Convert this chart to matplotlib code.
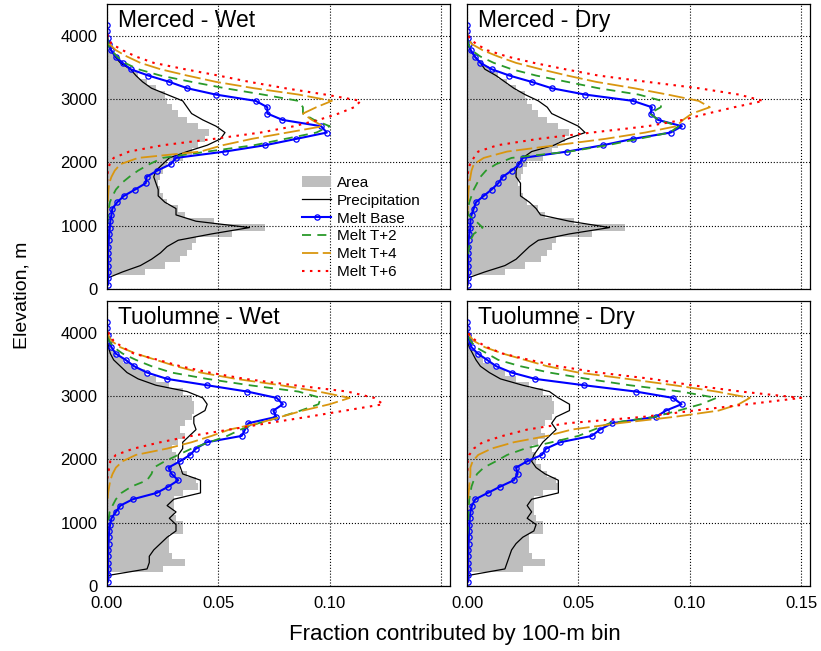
import numpy as np
import matplotlib
matplotlib.use("Agg")
import matplotlib.pyplot as plt
from matplotlib.patches import Patch
from matplotlib.lines import Line2D

plt.rcParams['font.family'] = ['Liberation Sans', 'DejaVu Sans']

# elevation of each 100-m bin (m)
elev = np.arange(70, 4200, 100)

# fraction of basin area per bin
merced_area = [0, 0, 0.017, 0.026, 0.033, 0.036, 0.038, 0.040, 0.056, 0.071,
               0.048, 0.035, 0.032, 0.027, 0.025, 0.024, 0.023, 0.024, 0.025, 0.027,
               0.034, 0.038, 0.041, 0.044, 0.046, 0.041, 0.036, 0.032, 0.029, 0.027,
               0.026, 0.022, 0.018, 0.014, 0.010, 0.007, 0.004, 0.0016, 0.0005, 0,
               0, 0]
tuol_area = [0, 0, 0.025, 0.035, 0.029, 0.028, 0.028, 0.028, 0.034, 0.034,
             0.031, 0.030, 0.030, 0.030, 0.034, 0.041, 0.040, 0.036, 0.033, 0.031,
             0.031, 0.029, 0.032, 0.035, 0.033, 0.035, 0.038, 0.039, 0.039, 0.038,
             0.034, 0.028, 0.022, 0.017, 0.012, 0.007, 0.004, 0.0018, 0.0006, 0,
             0, 0]

# Merced - Wet
mw_precip = [0, 0, 0.007, 0.015, 0.020, 0.024, 0.027, 0.032, 0.047, 0.064,
             0.040, 0.031, 0.031, 0.026, 0.023, 0.023, 0.022, 0.021, 0.022, 0.025,
             0.028, 0.036, 0.045, 0.051, 0.053, 0.049, 0.043, 0.038, 0.036, 0.034,
             0.027, 0.020, 0.016, 0.013, 0.0105, 0.006, 0.0035, 0.002, 0.001, 0.0002,
             0, 0]
mw_base = [0.0005, 0.0005, 0.0005, 0.0005, 0.0005, 0.0005, 0.0006, 0.0008, 0.001, 0.0013,
           0.0015, 0.002, 0.0024, 0.0046, 0.0076, 0.0126, 0.0174, 0.0178, 0.0226, 0.0286,
           0.031, 0.053, 0.071, 0.085, 0.0987, 0.0962, 0.0788, 0.072, 0.072, 0.0668,
           0.0488, 0.036, 0.028, 0.0186, 0.0106, 0.007, 0.0039, 0.0018, 0.0008, 0.0003,
           0.0001, 0]
mw_t2 = [0, 0, 0, 0, 0, 0, 0, 0, 0, 0.0001,
         0.0002, 0.0004, 0.0008, 0.0013, 0.0025, 0.004, 0.0065, 0.010, 0.014, 0.019,
         0.025, 0.045, 0.066, 0.080, 0.094, 0.100, 0.093, 0.088, 0.088, 0.086,
         0.070, 0.053, 0.038, 0.024, 0.014, 0.008, 0.0045, 0.002, 0.0005, 0.0001,
         0, 0]
mw_t4 = [0, 0, 0, 0, 0, 0, 0, 0, 0, 0,
         0, 0, 0.0002, 0.0004, 0.0005, 0.0007, 0.001, 0.002, 0.0035, 0.006,
         0.014, 0.042, 0.052, 0.065, 0.081, 0.097, 0.092, 0.088, 0.094, 0.101,
         0.086, 0.066, 0.049, 0.036, 0.024, 0.015, 0.009, 0.004, 0.001, 0.0002,
         0, 0]
mw_t6 = [0, 0, 0, 0, 0, 0, 0, 0, 0, 0,
         0, 0, 0, 0, 0, 0, 0, 0.0002, 0.0004, 0.0012,
         0.003, 0.010, 0.025, 0.048, 0.069, 0.084, 0.095, 0.104, 0.111, 0.114,
         0.098, 0.080, 0.064, 0.050, 0.035, 0.021, 0.013, 0.007, 0.002, 0.0005,
         0, 0]

# Merced - Dry
md_precip = [0, 0, 0.008, 0.017, 0.022, 0.025, 0.028, 0.032, 0.046, 0.064,
             0.046, 0.033, 0.031, 0.028, 0.024, 0.024, 0.024, 0.022, 0.022, 0.023,
             0.025, 0.029, 0.039, 0.045, 0.053, 0.050, 0.044, 0.038, 0.036, 0.032,
             0.026, 0.021, 0.017, 0.013, 0.008, 0.006, 0.0035, 0.0015, 0.0005, 0,
             0, 0]
md_base = [0.0003, 0.0004, 0.0004, 0.0005, 0.0005, 0.0005, 0.0005, 0.0007, 0.001, 0.0015,
           0.0015, 0.002, 0.003, 0.004, 0.0075, 0.011, 0.014, 0.016, 0.020, 0.0235,
           0.025, 0.045, 0.061, 0.0745, 0.0914, 0.0965, 0.0857, 0.0824, 0.083, 0.0745,
           0.053, 0.038, 0.029, 0.019, 0.011, 0.006, 0.0035, 0.0017, 0.0007, 0.0002,
           0, 0]
md_t2 = [0, 0, 0, 0, 0, 0.0005, 0.001, 0.0015, 0.003, 0.007,
         0.004, 0.0005, 0.0005, 0.001, 0.002, 0.003, 0.0045, 0.006, 0.0085, 0.013,
         0.020, 0.046, 0.063, 0.077, 0.091, 0.095, 0.086, 0.082, 0.087, 0.0875,
         0.077, 0.059, 0.045, 0.031, 0.020, 0.012, 0.006, 0.002, 0.0005, 0,
         0, 0]
md_t4 = [0, 0, 0, 0, 0, 0, 0, 0, 0, 0,
         0, 0, 0.0003, 0.0005, 0.0005, 0.0007, 0.001, 0.0015, 0.002, 0.003,
         0.0075, 0.018, 0.040, 0.062, 0.080, 0.094, 0.097, 0.101, 0.109, 0.104,
         0.090, 0.075, 0.058, 0.045, 0.033, 0.022, 0.014, 0.007, 0.002, 0.0005,
         0, 0]
md_t6 = [0, 0, 0, 0, 0, 0, 0, 0, 0, 0,
         0, 0, 0, 0, 0, 0, 0, 0.0003, 0.0005, 0.0013,
         0.003, 0.005, 0.0137, 0.032, 0.056, 0.081, 0.097, 0.108, 0.120, 0.133,
         0.122, 0.104, 0.081, 0.059, 0.044, 0.030, 0.018, 0.009, 0.004, 0.001,
         0, 0]

# Tuolumne - Wet
tw_precip = [0, 0.001, 0.018, 0.019, 0.019, 0.021, 0.024, 0.027, 0.031, 0.031,
             0.028, 0.031, 0.027, 0.030, 0.042, 0.042, 0.042, 0.034, 0.033, 0.032,
             0.032, 0.034, 0.034, 0.037, 0.040, 0.039, 0.039, 0.044, 0.045, 0.043,
             0.036, 0.022, 0.014, 0.009, 0.006, 0.003, 0.0015, 0.0007, 0.0002, 0,
             0, 0]
tw_base = [0.0005, 0.0005, 0.0005, 0.0005, 0.0005, 0.0006, 0.0007, 0.0008, 0.001, 0.0014,
           0.002, 0.004, 0.006, 0.0116, 0.0223, 0.0276, 0.032, 0.029, 0.0276, 0.0328,
           0.0373, 0.040, 0.0448, 0.0605, 0.062, 0.0635, 0.076, 0.0747, 0.079, 0.0762,
           0.063, 0.0449, 0.027, 0.018, 0.0122, 0.0084, 0.0039, 0.002, 0.001, 0.0003,
           0.0001, 0]
tw_t2 = [0, 0, 0, 0, 0, 0, 0, 0, 0, 0,
         0.0008, 0.0012, 0.0025, 0.004, 0.0065, 0.011, 0.018, 0.020, 0.021, 0.026,
         0.032, 0.038, 0.046, 0.054, 0.060, 0.068, 0.078, 0.087, 0.095, 0.096,
         0.086, 0.064, 0.045, 0.029, 0.020, 0.013, 0.007, 0.003, 0.001, 0.0003,
         0, 0]
tw_t4 = [0, 0, 0, 0, 0, 0, 0, 0, 0, 0,
         0, 0, 0, 0.0003, 0.0005, 0.001, 0.0015, 0.0025, 0.004, 0.007,
         0.013, 0.027, 0.038, 0.047, 0.055, 0.068, 0.078, 0.088, 0.100, 0.109,
         0.095, 0.078, 0.058, 0.042, 0.031, 0.022, 0.013, 0.006, 0.002, 0.0005,
         0, 0]
tw_t6 = [0, 0, 0, 0, 0, 0, 0, 0, 0, 0,
         0, 0, 0, 0, 0, 0, 0, 0.0005, 0.001, 0.0015,
         0.004, 0.012, 0.024, 0.038, 0.055, 0.072, 0.090, 0.107, 0.124, 0.120,
         0.108, 0.084, 0.062, 0.046, 0.033, 0.023, 0.012, 0.007, 0.003, 0.001,
         0, 0]

# Tuolumne - Dry
td_precip = [0, 0.001, 0.017, 0.018, 0.019, 0.020, 0.022, 0.025, 0.030, 0.031,
             0.027, 0.029, 0.027, 0.029, 0.041, 0.041, 0.041, 0.035, 0.031, 0.029,
             0.030, 0.032, 0.034, 0.037, 0.040, 0.038, 0.040, 0.046, 0.046, 0.041,
             0.037, 0.025, 0.015, 0.010, 0.006, 0.004, 0.0025, 0.001, 0.0002, 0,
             0, 0]
td_base = [0.0005, 0.0005, 0.0005, 0.0005, 0.0005, 0.0006, 0.0007, 0.0008, 0.0009, 0.001,
           0.0012, 0.0015, 0.0022, 0.0037, 0.0093, 0.0149, 0.021, 0.0227, 0.022, 0.027,
           0.0336, 0.0355, 0.0418, 0.056, 0.0597, 0.065, 0.0848, 0.0893, 0.0963, 0.0925,
           0.0758, 0.0525, 0.0306, 0.020, 0.0131, 0.009, 0.0048, 0.002, 0.001, 0.0003,
           0.0001, 0]
td_t2 = [0, 0, 0, 0, 0, 0, 0, 0, 0.0003, 0.0005,
         0.0006, 0.0007, 0.0008, 0.001, 0.0015, 0.002, 0.003, 0.0045, 0.0075, 0.013,
         0.018, 0.026, 0.038, 0.050, 0.057, 0.064, 0.084, 0.095, 0.105, 0.112,
         0.096, 0.073, 0.054, 0.037, 0.024, 0.014, 0.009, 0.004, 0.0015, 0.0005,
         0, 0]
td_t4 = [0, 0, 0, 0, 0, 0, 0, 0, 0, 0,
         0, 0, 0, 0.0005, 0.0007, 0.001, 0.0012, 0.0015, 0.0015, 0.0025,
         0.005, 0.011, 0.021, 0.036, 0.047, 0.068, 0.093, 0.113, 0.122, 0.127,
         0.112, 0.093, 0.072, 0.050, 0.036, 0.026, 0.016, 0.008, 0.003, 0.0008,
         0, 0]
td_t6 = [0, 0, 0, 0, 0, 0, 0, 0, 0, 0,
         0, 0, 0, 0, 0, 0, 0, 0, 0.0003, 0.0003,
         0.001, 0.003, 0.007, 0.016, 0.027, 0.045, 0.079, 0.102, 0.126, 0.150,
         0.123, 0.101, 0.083, 0.059, 0.041, 0.028, 0.016, 0.009, 0.004, 0.001,
         0, 0]

panels = [
    ("Merced - Wet", merced_area, mw_precip, mw_base, mw_t2, mw_t4, mw_t6),
    ("Merced - Dry", merced_area, md_precip, md_base, md_t2, md_t4, md_t6),
    ("Tuolumne - Wet", tuol_area, tw_precip, tw_base, tw_t2, tw_t4, tw_t6),
    ("Tuolumne - Dry", tuol_area, td_precip, td_base, td_t2, td_t4, td_t6),
]

area_col = '#bebebe'
green = '#2a9a2a'
orange = '#d9960f'
st_t2 = (0, (5, 3.5))
st_t4 = (0, (9, 2.5))
st_t6 = (0, (1.2, 2.6))

fig = plt.figure(figsize=(8.21, 6.51), dpi=100)
axs = fig.subplots(2, 2)
fig.subplots_adjust(left=0.1303, right=0.9866, bottom=0.0998, top=0.9939,
                    wspace=0.05, hspace=0.042)

for k, (ax, (title, area, pr, base, t2, t4, t6)) in enumerate(zip(axs.flat, panels)):
    ax.barh(elev, area, height=100, color=area_col, linewidth=0, zorder=0.3)
    ax.plot(pr, elev, color='black', lw=0.9)
    ax.plot(base, elev, color='#0000ff', lw=1.5, marker='o', ms=3.8,
            mfc='none', mec='#0000ff', mew=0.9)
    ax.plot(t2, elev, color=green, lw=1.3, linestyle=st_t2)
    ax.plot(t4, elev, color=orange, lw=1.3, linestyle=st_t4)
    ax.plot(t6, elev, color='red', lw=1.5, linestyle=st_t6)

    ax.set_xlim(0, 0.154)
    ax.set_ylim(0, 4500)
    ax.set_xticks([0, 0.05, 0.10, 0.15])
    ax.set_yticks([0, 1000, 2000, 3000, 4000])
    ax.set_axisbelow(True)
    ax.grid(True, color='black', linestyle=':', linewidth=0.8)
    ax.tick_params(length=0, labelsize=12, pad=7)
    for s in ax.spines.values():
        s.set_linewidth(0.9)

    row, col = divmod(k, 2)
    if row == 0:
        ax.set_xticklabels([])
    elif col == 0:
        ax.set_xticklabels(['0.00', '0.05', '0.10', ''])
    else:
        ax.set_xticklabels(['0.00', '0.05', '0.10', '0.15'])
    if col == 1:
        ax.set_yticklabels([])
    ax.text(0.032, 0.943, title, transform=ax.transAxes, fontsize=16.5,
            va='center', ha='left')

handles = [
    Patch(facecolor=area_col, edgecolor='none'),
    Line2D([], [], color='black', lw=0.9),
    Line2D([], [], color='#0000ff', lw=1.5, marker='o', ms=3.8, mfc='none', mew=0.9),
    Line2D([], [], color=green, lw=1.3, linestyle=st_t2),
    Line2D([], [], color=orange, lw=1.3, linestyle=st_t4),
    Line2D([], [], color='red', lw=1.5, linestyle=st_t6),
]
labels = ['Area', 'Precipitation', 'Melt Base', 'Melt T+2', 'Melt T+4', 'Melt T+6']
axs[0, 0].legend(handles, labels, loc='lower left', bbox_to_anchor=(0.54, 0.0),
                 frameon=False, fontsize=11, handlelength=1.9, handletextpad=0.4,
                 labelspacing=0.25, borderaxespad=0.25)

fig.text(0.027, 0.547, 'Elevation, m', rotation=90, fontsize=14,
         ha='center', va='center')
fig.text(0.554, 0.026, 'Fraction contributed by 100-m bin', fontsize=16,
         ha='center', va='center')

fig.savefig('out.png', dpi=100)
